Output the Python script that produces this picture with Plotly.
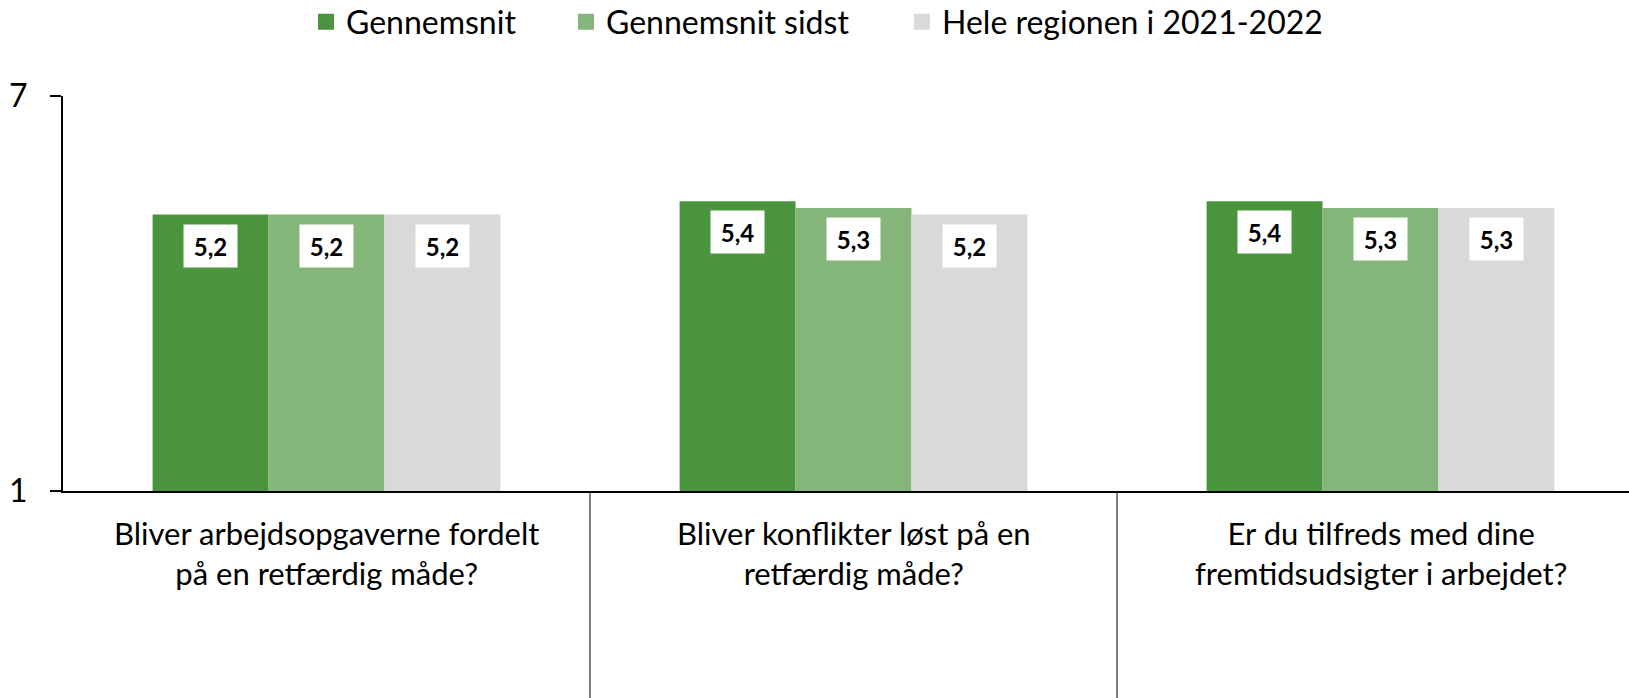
import plotly.graph_objects as go

categories = [
    "Bliver arbejdsopgaverne fordelt<br>på en retfærdig måde?",
    "Bliver konflikter løst på en<br>retfærdig måde?",
    "Er du tilfreds med dine<br>fremtidsudsigter i arbejdet?",
]
series_names = ["Gennemsnit", "Gennemsnit sidst", "Hele regionen i 2021-2022"]
gennemsnit = [5.2, 5.4, 5.4]
gennemsnit_sidst = [5.2, 5.3, 5.3]
hele_regionen = [5.2, 5.2, 5.3]
y_ticks = [1, 7]

colors = ["#4A943D", "#84B579", "#D9D9D9"]
series_values = [gennemsnit, gennemsnit_sidst, hele_regionen]
FONT = "Lato"
W, H = 1629, 698
bargap = 0.34

fig = go.Figure()
for name, vals, col in zip(series_names, series_values, colors):
    fig.add_trace(go.Bar(x=categories, y=vals, name=name, marker_color=col,
                         marker_line_width=0, showlegend=False, hoverinfo="skip"))

legend_keys = ["legend", "legend2", "legend3"]
for name, col, lk in zip(series_names, colors, legend_keys):
    fig.add_trace(go.Scatter(x=[None], y=[None], mode="markers", name=name,
                             marker=dict(symbol="square", size=20, color=col),
                             legend=lk, showlegend=True))

# value labels
nser = len(series_values)
bw = (1 - bargap) / nser
for s, vals in enumerate(series_values):
    off = (s - (nser - 1) / 2) * bw
    for i, v in enumerate(vals):
        fig.add_annotation(x=i + off, y=v, xref="x", yref="y",
                           text="<b>" + f"{v:.1f}".replace(".", ",") + "</b>",
                           showarrow=False, yanchor="top", yshift=-9,
                           width=53, height=42, borderpad=0, bgcolor="white",
                           font=dict(family=FONT, size=24, color="black"))

# category labels
for i, cat in enumerate(categories):
    fig.add_annotation(x=i, y=0, xref="x", yref="paper", text=cat,
                       showarrow=False, yanchor="middle", yshift=-62,
                       font=dict(family=FONT, size=31, color="black"))

# category separators
for b in range(len(categories) - 1):
    fig.add_shape(type="line", xref="x", yref="paper", x0=b + 0.5, x1=b + 0.5,
                  y0=0, y1=-0.6, line=dict(color="black", width=1))

leg_x = [306, 566, 902]
legend_common = dict(orientation="h", xref="container", yref="container",
                     xanchor="left", yanchor="middle", y=1 - 22 / H,
                     bgcolor="rgba(0,0,0,0)", borderwidth=0,
                     font=dict(family=FONT, size=32, color="black"))
fig.update_layout(
    width=W, height=H,
    margin=dict(l=63, r=0, t=96, b=207),
    plot_bgcolor="white", paper_bgcolor="white",
    barmode="group", bargap=bargap, bargroupgap=0,
    font=dict(family=FONT, color="black"),
    legend=dict(x=leg_x[0] / W, **legend_common),
    legend2=dict(x=leg_x[1] / W, **legend_common),
    legend3=dict(x=leg_x[2] / W, **legend_common),
    xaxis=dict(range=[-0.5, -0.5 + (W - 63) / 527], showticklabels=False,
               showline=True, linecolor="black", linewidth=2, ticks="",
               showgrid=False, zeroline=False),
    yaxis=dict(range=[1, 7], tickvals=y_ticks, ticktext=[str(t) for t in y_ticks],
               ticks="outside", ticklen=11, tickwidth=2, tickcolor="black",
               showline=True, linecolor="black", linewidth=2, showgrid=False,
               zeroline=False, ticklabelstandoff=16,
               tickfont=dict(family=FONT, size=32, color="black")),
)

fig.write_html("out.html", config={"displayModeBar": False},
               post_script="document.body.style.margin='0';")
